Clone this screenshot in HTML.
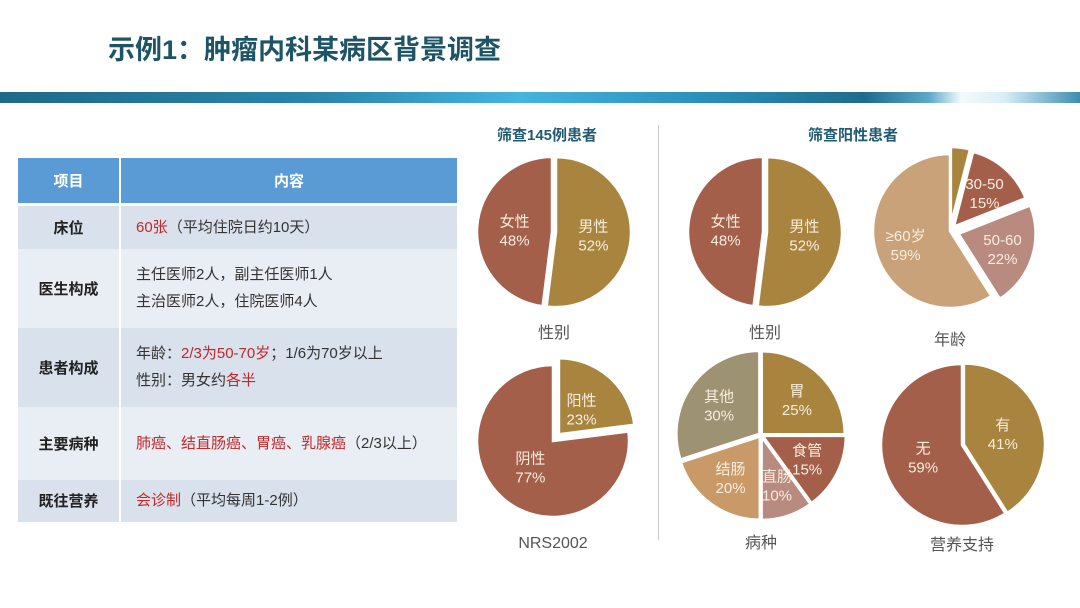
<!DOCTYPE html>
<html><head><meta charset="utf-8">
<style>
body{margin:0;width:1080px;height:608px;background:#fff;overflow:hidden;position:relative;font-family:"Liberation Sans","Noto Sans CJK SC",sans-serif}
#title{position:absolute;left:108px;top:28px;font-size:27px;font-weight:bold;color:#1d5567;letter-spacing:0px}
#band{position:absolute;left:0;top:92px;width:1080px;height:11px;background:linear-gradient(90deg,#1d6a88 0%,#2a86ad 30%,#45b4e0 48%,#2b8fbb 65%,#1e6c8c 80%,#5aa9c8 86%,#f4fafc 89%,#d8eef6 93%,#3c8db0 100%)}
table{position:absolute;left:18px;top:158px;width:439px;border-collapse:collapse;font-size:15px;color:#333}
td,th{border:0;padding:0}
th{background:#5b9bd5;color:#fff;height:45px;font-size:15px;border-right:2px solid #fff;border-bottom:3px solid #fff}
td.k{width:101px;text-align:center;font-weight:bold;border-right:2px solid #fff;color:#222}
td.v{padding-left:15px;line-height:27px}
tr.a td{background:#d9e1ec}
tr.b td{background:#e9edf4}
.r{color:#c0282a}
#divider{position:absolute;left:658px;top:125px;width:1px;height:415px;background:#c8c8c8}
.h{position:absolute;font-size:15px;font-weight:bold;color:#1f5a70}
svg{position:absolute;left:0;top:0}
</style></head><body>
<div id="title">示例1：肿瘤内科某病区背景调查</div>
<div id="band"></div>
<table>
<tr><th style="width:101px">项目</th><th style="border-right:0">内容</th></tr>
<tr class="a" style="height:44px"><td class="k">床位</td><td class="v"><span class="r">60张</span>（平均住院日约10天）</td></tr>
<tr class="b" style="height:79px"><td class="k">医生构成</td><td class="v">主任医师2人，副主任医师1人<br>主治医师2人，住院医师4人</td></tr>
<tr class="a" style="height:79px"><td class="k">患者构成</td><td class="v">年龄：<span class="r">2/3为50-70岁</span>；1/6为70岁以上<br>性别：男女约<span class="r">各半</span></td></tr>
<tr class="b" style="height:73px"><td class="k">主要病种</td><td class="v"><span class="r">肺癌、结直肠癌、胃癌、乳腺癌</span>（2/3以上）</td></tr>
<tr class="a" style="height:42px"><td class="k">既往营养</td><td class="v"><span class="r">会诊制</span>（平均每周1-2例）</td></tr>
</table>
<div id="divider"></div>
<div class="h" style="left:497px;top:124px">筛查145例患者</div>
<div class="h" style="left:808px;top:124px">筛查阳性患者</div>
<svg id="pies" width="1080" height="608"></svg>
<script>
const ns="http://www.w3.org/2000/svg";
const svg=document.getElementById('pies');
const sexLabels=["男性","女性"];
const sexAll=[52,48];
const sexPos=[52,48];
const ageLabels=["","30-50","50-60","≥60岁"];
const ageValues=[4,15,22,59];
const nrsLabels=["阳性","阴性"];
const nrsValues=[23,77];
const diseaseLabels=["胃","食管","直肠","结肠","其他"];
const diseaseValues=[25,15,10,20,30];
const supportLabels=["有","无"];
const supportValues=[41,59];
const OL="#a8843f",RB="#a45f4b",PK="#b88a80",TN="#c99a68",GO="#9d9272",AG="#c9a27a";
const pies=[
 {name:"screen-sex",cx:554,cy:232,r:75,vals:sexAll,labs:sexLabels,cols:[OL,RB],ex:[2,2],lr:0.5,cap:"性别",capY:338},
 {name:"nrs2002",cx:553,cy:441,r:76,vals:nrsValues,labs:nrsLabels,cols:[OL,RB],ex:[9,0],lr:0.45,cap:"NRS2002",capY:548},
 {name:"positive-sex",cx:765,cy:232,r:75,vals:sexPos,labs:sexLabels,cols:[OL,RB],ex:[2,2],lr:0.5,cap:"性别",capY:338},
 {name:"age",cx:950,cy:231,r:77,vals:ageValues,labs:ageLabels,cols:[OL,RB,PK,AG],ex:[7,6,9,0],lr:0.6,cap:"年龄",capY:345},
 {name:"disease",cx:761,cy:435,r:83,vals:diseaseValues,labs:diseaseLabels,cols:[OL,RB,PK,TN,GO],ex:[1,2,2,2,2],lr:0.6,cap:"病种",capY:548},
 {name:"nutrition-support",cx:962,cy:445,r:81,vals:supportValues,labs:supportLabels,cols:[OL,RB],ex:[2,0],lr:0.5,cap:"营养支持",capY:550}
];
function pt(cx,cy,r,a){return [cx+r*Math.sin(a),cy-r*Math.cos(a)];}
pies.forEach(p=>{
 const g=document.createElementNS(ns,'g');
 
 
 svg.appendChild(g);
 const tot=p.vals.reduce((a,b)=>a+b,0);
 let a0=0;
 p.vals.forEach((v,i)=>{
  const a1=a0+v/tot*2*Math.PI, m=(a0+a1)/2;
  const dx=p.ex[i]*Math.sin(m), dy=-p.ex[i]*Math.cos(m);
  const cx=p.cx+dx, cy=p.cy+dy;
  const s=pt(cx,cy,p.r,a0), e=pt(cx,cy,p.r,a1);
  const path=document.createElementNS(ns,'path');
  path.setAttribute('d',`M${cx},${cy}L${s[0]},${s[1]}A${p.r},${p.r} 0 ${a1-a0>Math.PI?1:0} 1 ${e[0]},${e[1]}Z`);
  path.setAttribute('fill',p.cols[i]);
  path.setAttribute('stroke','#fff');
  path.setAttribute('stroke-width','2.5');
  
  
  g.appendChild(path);
  if(p.labs[i]){
   const lp=pt(cx,cy,p.r*p.lr,m);
   [p.labs[i],v+'%'].forEach((t,k)=>{
    const tx=document.createElementNS(ns,'text');
    tx.setAttribute('x',lp[0]);tx.setAttribute('y',lp[1]-3+k*19);
    tx.setAttribute('text-anchor','middle');tx.setAttribute('font-size','15');
    tx.setAttribute('fill','#f7eede');
    
    
    tx.textContent=t;g.appendChild(tx);
   });
  }
  a0=a1;
 });
 const c=document.createElementNS(ns,'text');
 c.setAttribute('x',p.cx);c.setAttribute('y',p.capY);
 c.setAttribute('text-anchor','middle');c.setAttribute('font-size','16');c.setAttribute('fill','#555');
 
 
 c.textContent=p.cap;g.appendChild(c);
});
</script>
</body></html>
